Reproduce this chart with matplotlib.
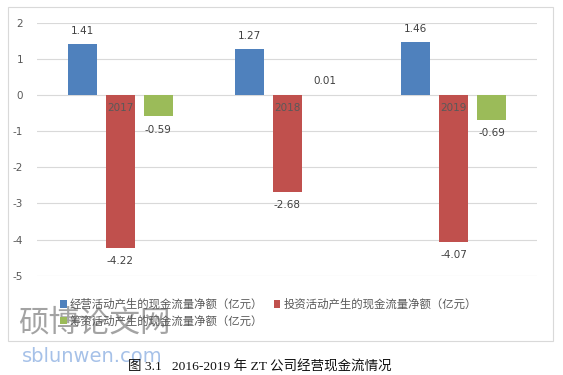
import matplotlib
matplotlib.use('Agg')
import matplotlib.pyplot as plt
from matplotlib.patches import Rectangle
import numpy as np

plt.rcParams['font.family'] = ['DejaVu Sans', 'Noto Sans CJK SC']

years = ['2017', '2018', '2019']
operating = [1.41, 1.27, 1.46]
investing = [-4.22, -2.68, -4.07]
financing = [-0.59, 0.01, -0.69]
names = ['经营活动产生的现金流量净额（亿元）',
         '投资活动产生的现金流量净额（亿元）',
         '筹资活动产生的现金流量净额（亿元）']
colors = ['#4F81BD', '#C0504D', '#9BBB59']
yticks = [2, 1, 0, -1, -2, -3, -4, -5]

fig = plt.figure(figsize=(5.63, 3.75), dpi=100)
W, H = 563, 375

# chart border
fig.patches.append(Rectangle((8 / W, 1 - 341 / H), 545 / W, 334 / H,
                             transform=fig.transFigure, fill=False,
                             edgecolor='#D9D9D9', lw=0.8))

ax = fig.add_axes([37 / W, 1 - 275.7 / H, 500 / W, 253 / H])
x = np.arange(len(years))
bw = 0.174
off = 0.228
bars = []
for k, vals in enumerate([operating, investing, financing]):
    b = ax.bar(x + (k - 1) * off, vals, bw, color=colors[k], label=names[k], zorder=2)
    bars.append(b)
    for xi, v in zip(x + (k - 1) * off, vals):
        if v >= 0:
            ax.annotate(f'{v:.2f}', (xi, v), xytext=(0, 6), textcoords='offset points',
                        ha='center', va='bottom', fontsize=7.5, color='#404040')
        else:
            ax.annotate(f'{v:.2f}', (xi, v), xytext=(0, -6), textcoords='offset points',
                        ha='center', va='top', fontsize=7.5, color='#404040')

for xi, y in zip(x, years):
    ax.annotate(y, (xi, 0), xytext=(0, -6), textcoords='offset points',
                ha='center', va='top', fontsize=7.5, color='#595959', zorder=3)

ax.set_xlim(-0.5, 2.5)
ax.set_ylim(-5, 2)
ax.set_yticks(yticks)
ax.set_yticklabels([str(t) for t in yticks])
ax.set_xticks([])
ax.tick_params(axis='y', length=0, labelsize=7.5, labelcolor='#595959', pad=10)
ax.grid(axis='y', color='#D9D9D9', lw=0.8, zorder=0)
for s in ax.spines.values():
    s.set_visible(False)

handles = [bars[0], bars[2], bars[1]]
labels = [names[0], names[2], names[1]]
fig.legend(handles, labels, ncol=2, loc='upper left',
           bbox_to_anchor=(54 / W, 1 - 293 / H), frameon=False,
           fontsize=8.2, labelcolor='#595959', handlelength=0.6, handleheight=0.6,
           handletextpad=0.3, columnspacing=0.9, labelspacing=0.45, borderpad=0)

# watermark
fig.text(18 / W, 1 - 323 / H, '硕博论文网', fontsize=22, color='#8c8c8c', alpha=0.8,
         va='center', ha='left', family=['Noto Sans CJK SC'])
fig.text(22 / W, 1 - 356 / H, 'sblunwen.com', fontsize=14, color='#9dbbe6', alpha=0.9,
         va='center', ha='left')

fig.text(260 / W, 1 - 367 / H, '图 3.1   2016-2019 年 ZT 公司经营现金流情况',
         fontsize=9.7, ha='center', va='center', color='#111111',
         family=['Liberation Serif', 'Noto Sans CJK SC'])

fig.savefig('out.png', dpi=100)
